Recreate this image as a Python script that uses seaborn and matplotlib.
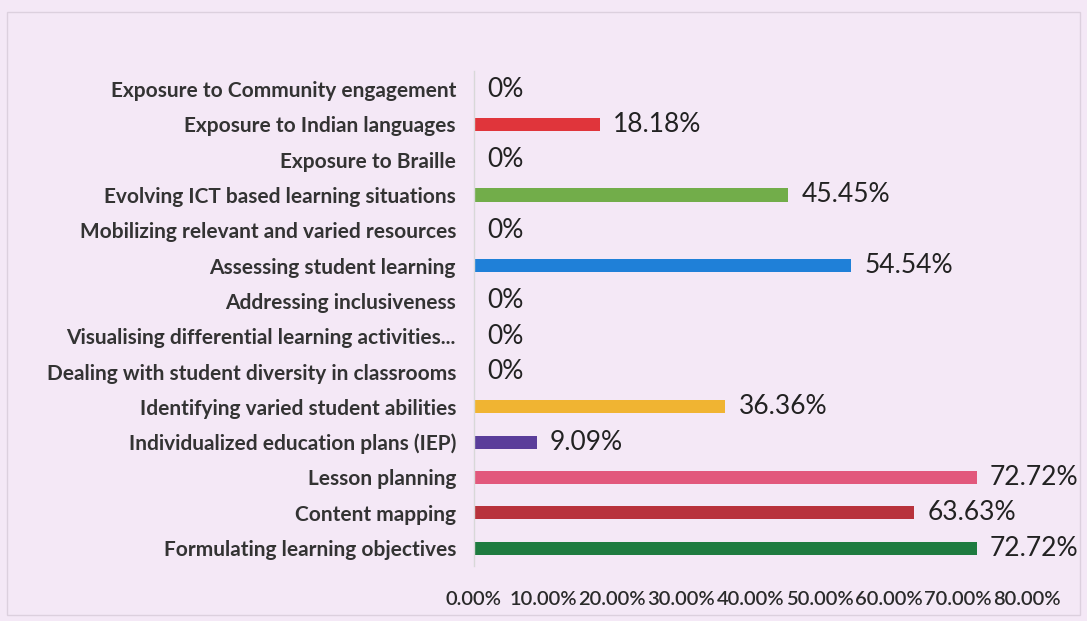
import matplotlib
matplotlib.use("Agg")
import matplotlib.pyplot as plt
import seaborn as sns
import pandas as pd
from matplotlib.ticker import FuncFormatter
from matplotlib.patches import Rectangle

categories = [
    "Exposure to Community engagement",
    "Exposure to Indian languages",
    "Exposure to Braille",
    "Evolving ICT based learning situations",
    "Mobilizing relevant and varied resources",
    "Assessing student learning",
    "Addressing inclusiveness",
    "Visualising differential learning activities...",
    "Dealing with student diversity in classrooms",
    "Identifying varied student abilities",
    "Individualized education plans (IEP)",
    "Lesson planning",
    "Content mapping",
    "Formulating learning objectives",
]
percent = [0, 18.18, 0, 45.45, 0, 54.54, 0, 0, 0, 36.36, 9.09, 72.72, 63.63, 72.72]
value_labels = ["0%", "18.18%", "0%", "45.45%", "0%", "54.54%", "0%", "0%", "0%",
                "36.36%", "9.09%", "72.72%", "63.63%", "72.72%"]
bar_colors = ["#e8a0b8", "#e0353b", "#a5a5a5", "#72ad4a", "#8a8a8a", "#1f80d8",
              "#999999", "#999999", "#999999", "#f0b432", "#5a3d9a", "#e2587c",
              "#b8323c", "#1e7b40"]
x_ticks = [0, 10, 20, 30, 40, 50, 60, 70, 80]

bg = "#f4e8f6"
sns.set_theme(style="white")
plt.rcParams["font.family"] = ["Lato", "DejaVu Sans"]

df = pd.DataFrame({"category": categories, "percent": percent})

fig = plt.figure(figsize=(10.87, 6.21), dpi=100, facecolor=bg)
fig.patches.append(Rectangle((0.006, 0.01), 0.988, 0.97, transform=fig.transFigure,
                             fill=False, edgecolor="#dcd0de", linewidth=1.0))
ax = fig.add_axes([0.436, 0.089, 0.509, 0.796])
ax.set_facecolor(bg)

sns.barplot(data=df, y="category", x="percent", hue="category",
            palette=bar_colors, order=categories, hue_order=categories,
            orient="h", width=0.37, legend=False, ax=ax, saturation=1,
            linewidth=0)

ax.set_xlim(0, 80)
ax.set_ylim(len(categories) - 0.5, -0.5)
ax.set_xticks(x_ticks)
ax.xaxis.set_major_formatter(FuncFormatter(lambda v, p: f"{v:.2f}%"))
ax.tick_params(axis="x", length=0, pad=18, labelsize=14.5, labelcolor="#2a2a2a")
ax.tick_params(axis="y", length=0, pad=13, labelcolor="#333333")
for lab in ax.get_yticklabels():
    lab.set_fontsize(15)
    lab.set_fontweight("bold")
for lab in ax.get_xticklabels():
    lab.set_fontweight("semibold")
ax.set_xlabel("")
ax.set_ylabel("")

for s in ["top", "right", "bottom"]:
    ax.spines[s].set_visible(False)
ax.spines["left"].set_color("#d8d8d8")
ax.spines["left"].set_linewidth(1.0)

for i, (v, txt) in enumerate(zip(percent, value_labels)):
    ax.text(v + 1.9, i, txt, va="center", ha="left", fontsize=19, color="#222222")

fig.savefig("out.png", dpi=100, facecolor=bg)
